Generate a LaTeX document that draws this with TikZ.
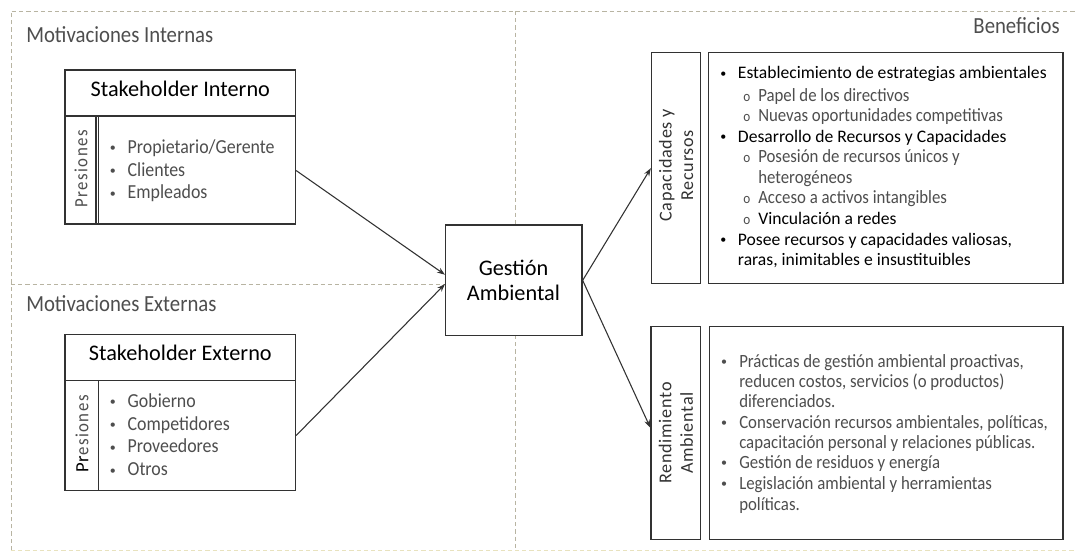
\documentclass[tikz,border=0pt]{standalone}
\usepackage{fontspec}
\setmainfont{Carlito}
\newfontfamily\thinfont[FakeStretch=0.9]{Carlito}
\newfontfamily\widefont[LetterSpace=4]{Carlito}
\newfontfamily\widethin[LetterSpace=8,FakeStretch=0.9]{Carlito}
\usetikzlibrary{arrows.meta,calc,fit}

\definecolor{zonecol}{RGB}{184,180,162}
\definecolor{zonebottom}{RGB}{232,226,190}
\definecolor{ink}{RGB}{50,50,50}
\definecolor{soft}{RGB}{78,78,78}

\tikzset{
  zone/.style={draw=zonecol, line width=0.7pt, dash pattern=on 3.2pt off 2.2pt},
  box/.style={draw=ink, line width=1pt, inner sep=0pt},
  innerline/.style={draw=ink, line width=1pt},
  arr/.style={draw=ink, line width=0.8pt, -{Stealth[length=6pt,width=4.2pt]}},
  zonelbl/.style={font=\thinfont\fontsize{17.3}{20}\selectfont, text=soft, anchor=base west, inner sep=0pt},
  head/.style={font=\fontsize{16.7}{20}\selectfont, text=black, anchor=base, inner sep=0pt},
  item/.style={font=\thinfont\fontsize{14.9}{18}\selectfont, text=soft, anchor=base west, inner sep=0pt},
  ritem/.style={font=\thinfont\fontsize{14}{17}\selectfont, text=soft, anchor=base west, inner sep=0pt},
  rbold/.style={font=\fontsize{13.2}{16}\selectfont, text=black, anchor=base west, inner sep=0pt},
  dot/.style={font=\fontsize{9}{10}\selectfont, text=soft, anchor=base west, inner sep=0pt},
  bdot/.style={dot, text=black},
  subdot/.style={font=\thinfont\fontsize{11}{13}\selectfont, text=soft, anchor=base west, inner sep=0pt},
  pres/.style={font=\widethin\fontsize{14}{16}\selectfont, text=soft, rotate=90, inner sep=0pt},
  side/.style={font=\widefont\fontsize{13.6}{16}\selectfont, text=ink, rotate=90, align=center, inner sep=0pt}
}

\begin{document}
\begin{tikzpicture}[x=0.75pt,y=-0.75pt]
\useasboundingbox (0,0) rectangle (1076,553);
\fill[white] (0,0) rectangle (1076,553);

% dashed zones
\draw[zone] (11,550) -- (11,11) -- (1076,11);
\draw[zone] (515,11) -- (515,550);
\draw[zone] (11,284) -- (515,284);
\draw[zone, draw=zonebottom] (11,550) -- (1076,550);

\node[zonelbl] (mi) at (26,42) {Motivaciones Internas};
\node[zonelbl] (me) at (26,311) {Motivaciones Externas};
\node[zonelbl, anchor=base east] (bf) at (1060,33) {Beneficios};

% internal stakeholder
\node[box, fit={(65,70) (295.5,116)}] (sih) {};
\node[box, fit={(65,116) (295.5,224)}] (sib) {};
\node[box, fit={(65,116) (96,224)}] (sip) {};
\draw[innerline] (98.5,116) -- (98.5,224);
\node[head] (sit) at (180.3,96.7) {Stakeholder Interno};
\node[pres] (sipr) at (81,169) {Presiones};
\node[dot] (sb1) at (109.5,151.5) {•};
\node[item] (si1) at (127.4,153) {Propietario/Gerente};
\node[dot] (sb2) at (109.5,174.5) {•};
\node[item] (si2) at (127.4,176) {Clientes};
\node[dot] (sb3) at (109.5,197) {•};
\node[item] (si3) at (127.4,198.5) {Empleados};

% external stakeholder
\node[box, fit={(65,334.3) (295.5,380.3)}] (seh) {};
\node[box, fit={(65,380.3) (295.5,490.7)}] (seb) {};
\node[box, fit={(65,380.3) (98.5,490.7)}] (sep) {};
\node[head] (set) at (180.3,360) {Stakeholder Externo};
\node[pres] (sepr) at (82,434) {{\widefont\color{black}Pr}esiones};
\node[dot] (eb1) at (109.5,405.5) {•};
\node[item] (ei1) at (127.4,407) {Gobierno};
\node[dot] (eb2) at (109.5,428.5) {•};
\node[item] (ei2) at (127.4,430) {Competidores};
\node[dot] (eb3) at (109.5,451) {•};
\node[item] (ei3) at (127.4,452.5) {Proveedores};
\node[dot] (eb4) at (109.5,474) {•};
\node[item] (ei4) at (127.4,475.5) {Otros};

% central box
\node[box, fill=white, fit={(445.7,225) (582,335.7)}] (ga) {};
\node[head] (gat1) at (513.5,275) {Gestión};
\node[head] (gat2) at (513.5,300.7) {Ambiental};

% benefit boxes
\node[box, fit={(651.5,52.7) (700.7,283.7)}] (cl) {};
\node[box, fit={(708.5,52.7) (1063,283.7)}] (cc) {};
\node[box, fit={(651,326.7) (700.7,539.5)}] (rl) {};
\node[box, fit={(709.5,326.7) (1063,539.5)}] (rc) {};
\node[side] (clt) at ($(cl.center)+(0,-3)$) {Capacidades y\\Recursos};
\node[side] (rlt) at (rl.center) {Rendimiento\\Ambiental};

% capacities text
\node[bdot] (cb1) at (720,77.5) {•};
\node[rbold] (c1) at (737.7,79) {Establecimiento de estrategias ambientales};
\node[subdot] (co1) at (743,101) {o};
\node[ritem] (c2) at (758,101) {Papel de los directivos};
\node[subdot] (co2) at (743,121.5) {o};
\node[ritem] (c3) at (758,121.5) {Nuevas oportunidades competitivas};
\node[bdot] (cb2) at (720,140.5) {•};
\node[rbold] (c4) at (737.7,142) {Desarrollo de Recursos y Capacidades};
\node[subdot] (co3) at (743,162) {o};
\node[ritem] (c5) at (758,162) {Posesión de recursos únicos y};
\node[ritem] (c6) at (758,183) {heterogéneos};
\node[subdot] (co4) at (743,203) {o};
\node[ritem] (c7) at (758,203) {Acceso a activos intangibles};
\node[subdot] (co5) at (743,224) {o};
\node[rbold] (c8) at (758,224) {Vinculación a redes};
\node[bdot] (cb3) at (720,243.5) {•};
\node[rbold] (c9) at (737.7,245) {Posee recursos y capacidades valiosas,};
\node[rbold] (c10) at (737.7,265) {raras, inimitables e insustituibles};

% performance text
\node[dot] (rb1) at (720.8,365.5) {•};
\node[ritem] (r1) at (739,367) {Prácticas de gestión ambiental proactivas,};
\node[ritem] (r2) at (739,387) {reducen costos, servicios (o productos)};
\node[ritem] (r3) at (739,407) {diferenciados.};
\node[dot] (rb2) at (720.8,426.5) {•};
\node[ritem] (r4) at (739,428) {Conservación recursos ambientales, políticas,};
\node[ritem] (r5) at (739,448) {capacitación personal y relaciones públicas.};
\node[dot] (rb3) at (720.8,466.5) {•};
\node[ritem] (r6) at (739,468) {Gestión de residuos y energía};
\node[dot] (rb4) at (720.8,487.5) {•};
\node[ritem] (r7) at (739,489) {Legislación ambiental y herramientas};
\node[ritem] (r8) at (739,510) {políticas.};

% connectors
\draw[arr] ($(sib.north east)!0.505!(sib.south east)$) -- ($(ga.north west)!0.45!(ga.south west)$);
\draw[arr] ($(seb.north east)!0.5!(seb.south east)$) -- ($(ga.north west)!0.533!(ga.south west)$);
\draw[arr] (ga.east) -- (cl.west);
\draw[arr] (ga.east) -- ($(rl.north west)!0.475!(rl.south west)$);
\end{tikzpicture}
\end{document}
